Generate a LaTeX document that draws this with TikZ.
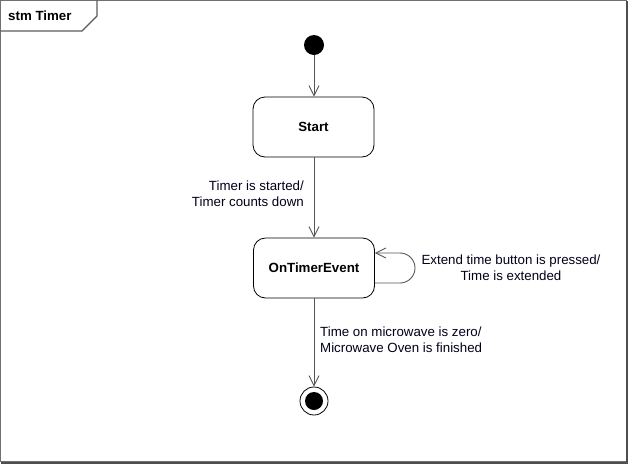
\documentclass[tikz,border=0pt]{standalone}
\usepackage{fontspec}
\setmainfont{Liberation Sans}
\usetikzlibrary{arrows.meta}
\definecolor{linec}{HTML}{555555}
\definecolor{framec}{HTML}{707070}
\tikzset{
  statebox/.style={draw=black, line width=0.8pt, rounded corners=12pt, minimum width=121pt, minimum height=60pt, inner sep=0pt, font=\fontsize{13.3}{16}\selectfont\bfseries, fill=white},
  trans/.style={draw=linec, line width=0.9pt, -{Straight Barb[length=10pt,width=10pt,line width=0.9pt]}},
  lbl/.style={font=\fontsize{13.3}{16}\selectfont, inner sep=0pt, text=black!90!blue}
}
\begin{document}
\begin{tikzpicture}[x=1pt,y=1pt]
\useasboundingbox (0,0) rectangle (629,-464);
% frame
\draw[framec, line width=1pt] (0.5,-0.5) rectangle (626,-461);
\draw[framec!70!black, line width=2pt] (627,-1) -- (627,-462.5) -- (1,-462.5);
% tab
\draw[framec!80!black, line width=1.2pt] (0.5,-31) -- (82,-31) -- (97,-16) -- (97,-0.5);
\node[anchor=west, inner sep=0pt, font=\fontsize{13.3}{16}\selectfont\bfseries] (title) at (8,-16) {stm Timer};
% initial
\node[circle, fill=black, minimum size=20pt, inner sep=0pt] (init) at (314,-45) {};
% states
\node[statebox] (start) at (313.5,-127) {Start};
\node[statebox] (ote) at (314,-268) {OnTimerEvent};
% final
\node[circle, draw=black, line width=0.8pt, minimum size=28pt, inner sep=0pt] (fin) at (314,-401) {};
\node[circle, fill=black, minimum size=18pt, inner sep=0pt] (finin) at (fin.center) {};
% transitions
\draw[trans] (init) -- (init |- start.north);
\draw[trans] (start.south -| ote.north) -- (ote.north);
\draw[trans] (ote.south) -- (fin.north);
\coordinate (lpA) at (400,-283);
\coordinate (lpB) at (400,-253);
\draw[trans] (ote.east |- lpA) -- (lpA) arc[start angle=-90, end angle=90, radius=15] -- (ote.east |- lpB);
% labels
\node[lbl, align=right, anchor=north east] (l1) at (304,-181) {Timer is started/\\Timer counts down};
\node[lbl, align=center, anchor=north] (l2) at (511,-255) {Extend time button is pressed/\\Time is extended};
\node[lbl, align=left, anchor=north west] (l3) at (320,-327) {Time on microwave is zero/\\Microwave Oven is finished};
\end{tikzpicture}
\end{document}
